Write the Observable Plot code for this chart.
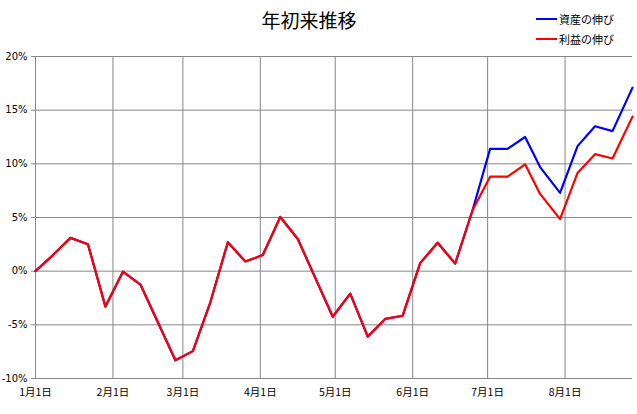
<!DOCTYPE html>
<html>
<head>
<meta charset="utf-8">
<script src="https://cdn.jsdelivr.net/npm/d3@7"></script>
<script src="https://cdn.jsdelivr.net/npm/@observablehq/plot@0.6"></script>
<style>
  body { margin: 0; background: #fff; }
  #wrap { position: relative; width: 637px; }
  #header { position: relative; height: 50px; font-family: "Noto Sans CJK JP", sans-serif; }
  #title { position: absolute; left: 0; width: 618px; top: 6px; text-align: center; font-size: 19px; color: #000; line-height: 28px; }
  .leg { position: absolute; left: 536px; font-size: 11px; line-height: 14px; color: #000; display: flex; align-items: center; }
  .leg span.sw { display: inline-block; width: 21px; height: 2px; margin-right: 2px; }
  svg { display: block; }
</style>
</head>
<body>
<div id="wrap">
  <div id="header">
    <div id="title">年初来推移</div>
    <div class="leg" style="top:12px"><span class="sw" style="background:#0000ff"></span>資産の伸び</div>
    <div class="leg" style="top:32px"><span class="sw" style="background:#ff0000"></span>利益の伸び</div>
  </div>
  <div id="chart"></div>
</div>
<script>
const dates = ["2015-01-01","2015-01-08","2015-01-15","2015-01-22","2015-01-29","2015-02-05","2015-02-12","2015-02-26",
  "2015-03-05","2015-03-12","2015-03-19","2015-03-26","2015-04-02","2015-04-09","2015-04-16","2015-04-30",
  "2015-05-07","2015-05-14","2015-05-21","2015-05-28","2015-06-04","2015-06-11","2015-06-18","2015-06-25",
  "2015-07-02","2015-07-09","2015-07-16","2015-07-22","2015-07-30","2015-08-06","2015-08-13","2015-08-20","2015-08-28"];
const assetGrowth = [0, 1.5, 3.1, 2.5, -3.3, -0.05, -1.25, -8.3,
  -7.45, -2.9, 2.7, 0.9, 1.5, 5.05, 3.0, -4.25,
  -2.1, -6.1, -4.45, -4.15, 0.75, 2.65, 0.7, 5.7,
  11.4, 11.4, 12.5, 9.7, 7.3, 11.65, 13.5, 13.05, 17.1];
const profitGrowth = [0, 1.5, 3.1, 2.5, -3.3, -0.05, -1.25, -8.3,
  -7.45, -2.9, 2.7, 0.9, 1.5, 5.05, 3.0, -4.25,
  -2.1, -6.1, -4.45, -4.15, 0.75, 2.65, 0.7, 5.7,
  8.8, 8.8, 9.95, 7.2, 4.85, 9.15, 10.9, 10.5, 14.4];
const monthTicks = ["2015-01-01","2015-02-01","2015-03-01","2015-04-01","2015-05-01","2015-06-01","2015-07-01","2015-08-01"];
const monthLabels = ["1月1日","2月1日","3月1日","4月1日","5月1日","6月1日","7月1日","8月1日"];
const yTicks = [-10, -5, 0, 5, 10, 15, 20];
const xDomain = ["2015-01-01", "2015-08-28"];

const parse = s => new Date(s + "T00:00:00Z");
const asset = dates.map((d, i) => ({date: parse(d), value: assetGrowth[i]}));
const profit = dates.map((d, i) => ({date: parse(d), value: profitGrowth[i]}));
const mTicks = monthTicks.map(parse);
const labelOf = new Map(mTicks.map((d, i) => [+d, monthLabels[i]]));

const gridColor = "#878787";
const chart = Plot.plot({
  width: 637,
  height: 364,
  marginTop: 6,
  marginBottom: 36,
  marginLeft: 35,
  marginRight: 5,
  style: {fontFamily: "'DejaVu Sans', sans-serif", fontSize: "10px", color: "#000", background: "#fff"},
  x: {type: "utc", domain: xDomain.map(parse)},
  y: {domain: [-10, 20]},
  marks: [
    Plot.ruleY(yTicks, {y: d => d, stroke: gridColor, strokeWidth: 1}),
    Plot.ruleX(mTicks, {x: d => d, stroke: gridColor, strokeWidth: 1}),
    Plot.axisY({ticks: yTicks, tickFormat: d => `${d}%`, tickSize: 4, tickPadding: 4, stroke: gridColor, fontSize: 10, label: null}),
    Plot.axisX({ticks: mTicks, tickFormat: d => labelOf.get(+d), tickSize: 0, tickPadding: 10, fontSize: 10.5, label: null,
      fontFamily: "'Noto Sans CJK JP', sans-serif"}),
    Plot.lineY(asset, {x: "date", y: "value", stroke: "#0000ff", strokeWidth: 2.2}),
    Plot.lineY(profit, {x: "date", y: "value", stroke: "#ff0000", strokeWidth: 2.2})
  ]
});
document.getElementById("chart").appendChild(chart);
</script>
</body>
</html>
